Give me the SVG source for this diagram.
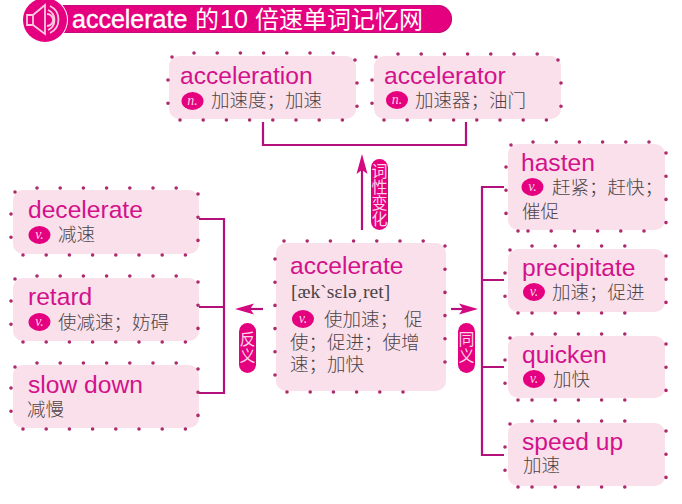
<svg xmlns="http://www.w3.org/2000/svg" width="682" height="504" viewBox="0 0 682 504">
<style>
text{font-family:"Liberation Sans","Noto Sans CJK SC",sans-serif}
.box{fill:#fae0ea}
.dots{fill:none;stroke:#ad2a6c;stroke-width:3.6;stroke-linecap:round;stroke-dasharray:0 23.2}
.en{font-size:24.600px;fill:#d2128c}
.cn{font-family:"Noto Sans CJK SC",sans-serif;font-size:18.500px;font-weight:300;fill:#4a4448}
.badge{fill:#e5007f}
.pos{font-family:"Liberation Serif",serif;font-style:italic;font-size:14px;fill:#fbd3e6;text-anchor:middle}
.line{fill:none;stroke:#b3107c;stroke-width:2.2}
.head{fill:#d4087f}
.pill{fill:#e5007f}
.vt{font-family:"Noto Sans CJK SC",sans-serif;font-size:16px;fill:#fbd3e6;writing-mode:vertical-rl;text-anchor:middle}
.ico{fill:none;stroke:#fbc8e0;stroke-width:1.8}
</style>
<rect width="682" height="504" fill="#fff"/>

<g id="header">
<path d="M60 5H438a14 14 0 0 1 0 28H60Z" fill="#e5007f"/>
<path d="M60 5.500H438a13.500 13.500 0 0 1 0 27H60" fill="none" stroke="#c40a78" stroke-width="1"/>
<circle cx="45" cy="20" r="23" fill="#fff"/>
<circle cx="45" cy="20" r="22" fill="#e5007f"/>
<path class="ico" d="M27 15H33L45 5V34L33 25H27Z M33 15V25"/>
<path class="ico" d="M47 14a6 6 0 0 1 0 12M48 10a11 11 0 0 1 0 20M50 6a15 15 0 0 1 0 27"/>
<text x="72" y="28" font-size="25" fill="#fff" stroke="#fff" stroke-width=".4">accelerate</text>
<text x="195" y="28" font-size="24" fill="#fff" style="font-family:'Noto Sans CJK SC',sans-serif">的</text>
<text x="220" y="28" font-size="25" fill="#fff">10</text>
<text x="255" y="28" font-size="24" fill="#fff" style="font-family:'Noto Sans CJK SC',sans-serif">倍速单词记忆网</text>
</g>

<g id="connectors">
<path class="line" d="M263 122V145H466V122"/>
<path class="line" d="M362 230V168"/>
<path class="head" d="M362 154L367.500 174L362 170L356.500 174Z"/>
<path class="line" d="M199 219H224V393H199M199 307H224"/>
<path class="line" d="M263 309H245"/>
<path class="head" d="M235 309L254 303.500L250 309L254 314.500Z"/>
<path class="line" d="M451 309H468"/>
<path class="head" d="M478 309L459 303.500L463 309L459 314.500Z"/>
<path class="line" d="M504 187H482V455H504M482 280H504M482 367H504"/>
</g>

<g id="label-pos">
<rect class="pill" x="371" y="159" width="17" height="71" rx="8.500"/>
<text class="vt" x="379.500" y="195">词性变化</text>
</g>
<g id="label-ant">
<rect class="pill" x="239" y="323" width="17" height="50" rx="8.500"/>
<text class="vt" x="247.500" y="348" style="letter-spacing:1.500px">反义</text>
</g>
<g id="label-syn">
<rect class="pill" x="458" y="323" width="17" height="50" rx="8.500"/>
<text class="vt" x="466.500" y="348" style="letter-spacing:1.500px">同义</text>
</g>

<g id="node-acceleration">
<rect class="box" x="169" y="56" width="187" height="63" rx="10"/>
<path class="dots" d="M172 57h.1M194 53H335M355 60h.1M357 83V107M180 120H344M168 80V104"/>
<text class="en" x="180" y="84">acceleration</text>
<ellipse class="badge" cx="192.500" cy="101" rx="11" ry="9"/><text class="pos" x="192.500" y="105">n.</text>
<text class="cn" x="211" y="107">加速度；加速</text>
</g>

<g id="node-accelerator">
<rect class="box" x="374" y="56" width="187" height="63" rx="10"/>
<path class="dots" d="M376 57h.1M398 54H538M558 60h.1M561 83V107M384 120H547M372 80V104"/>
<text class="en" x="384" y="84">accelerator</text>
<ellipse class="badge" cx="397" cy="100" rx="11" ry="9"/><text class="pos" x="397" y="104">n.</text>
<text class="cn" x="415" y="107">加速器；油门</text>
</g>

<g id="node-decelerate">
<rect class="box" x="13" y="190" width="186" height="64" rx="10"/>
<path class="dots" d="M15 192h.1M37 188H178M198 194V242M23 255H186M11 214V238"/>
<text class="en" x="28" y="218">decelerate</text>
<ellipse class="badge" cx="39.500" cy="235" rx="11" ry="9"/><text class="pos" x="39.500" y="239">v.</text>
<text class="cn" x="58" y="241">减速</text>
</g>

<g id="node-retard">
<rect class="box" x="13" y="278" width="186" height="63" rx="10"/>
<path class="dots" d="M15 279h.1M37 276H178M198 282V330M23 342H186M11 301V325"/>
<text class="en" x="28" y="305">retard</text>
<ellipse class="badge" cx="39.500" cy="322" rx="11" ry="9"/><text class="pos" x="39.500" y="326">v.</text>
<text class="cn" x="58" y="329">使减速；妨碍</text>
</g>

<g id="node-slow-down">
<rect class="box" x="13" y="365" width="186" height="63" rx="10"/>
<path class="dots" d="M15 367h.1M37 363H178M198 369V417M23 429H186M11 388V412"/>
<text class="en" x="28" y="393">slow down</text>
<text class="cn" x="27" y="416">减慢</text>
</g>

<g id="node-accelerate">
<rect class="box" x="276" y="243" width="170" height="148" rx="10"/>
<path class="dots" d="M284 241H424M445 246V385M287 392H426M275 259V376"/>
<text class="en" x="290" y="274">accelerate</text>
<text x="291" y="298" font-size="19.500" fill="#4a4448" style="font-family:'Liberation Serif',serif">[æk`sɛlə͵ret]</text>
<ellipse class="badge" cx="303" cy="319" rx="11" ry="9"/><text class="pos" x="303" y="323">v.</text>
<text class="cn" x="324" y="326">使加速；</text>
<text class="cn" x="404" y="326">促</text>
<text class="cn" x="290" y="349">使；促进；使增</text>
<text class="cn" x="290" y="371">速；加快</text>
</g>

<g id="node-hasten">
<rect class="box" x="508" y="144" width="157" height="86" rx="10"/>
<path class="dots" d="M511 145h.1M533 142H650M666 153V224M528 231H645M518 231h.1M506 167V214"/>
<text class="en" x="521" y="171">hasten</text>
<ellipse class="badge" cx="532.500" cy="187" rx="11" ry="9"/><text class="pos" x="532.500" y="191">v.</text>
<text class="cn" x="552" y="194">赶紧；赶快；</text>
<text class="cn" x="522" y="218">催促</text>
</g>

<g id="node-precipitate">
<rect class="box" x="508" y="249" width="157" height="63" rx="10"/>
<path class="dots" d="M510 250h.1M532 246H648M666 256V304M518 313h.1M532 313H648M505 273V297"/>
<text class="en" x="522" y="276">precipitate</text>
<ellipse class="badge" cx="534" cy="292" rx="11" ry="9"/><text class="pos" x="534" y="296">v.</text>
<text class="cn" x="552" y="299">加速；促进</text>
</g>

<g id="node-quicken">
<rect class="box" x="508" y="336" width="157" height="62" rx="10"/>
<path class="dots" d="M510 338h.1M532 334H648M666 344V391M518 400h.1M532 400H648M505 360V384"/>
<text class="en" x="522" y="363">quicken</text>
<ellipse class="badge" cx="534" cy="379" rx="11" ry="9"/><text class="pos" x="534" y="383">v.</text>
<text class="cn" x="553" y="386">加快</text>
</g>

<g id="node-speed-up">
<rect class="box" x="508" y="423" width="157" height="63" rx="10"/>
<path class="dots" d="M510 424h.1M532 421H648M666 431V478M518 487h.1M532 487H648M505 447V471"/>
<text class="en" x="522" y="450">speed up</text>
<text class="cn" x="523" y="472">加速</text>
</g>
</svg>
